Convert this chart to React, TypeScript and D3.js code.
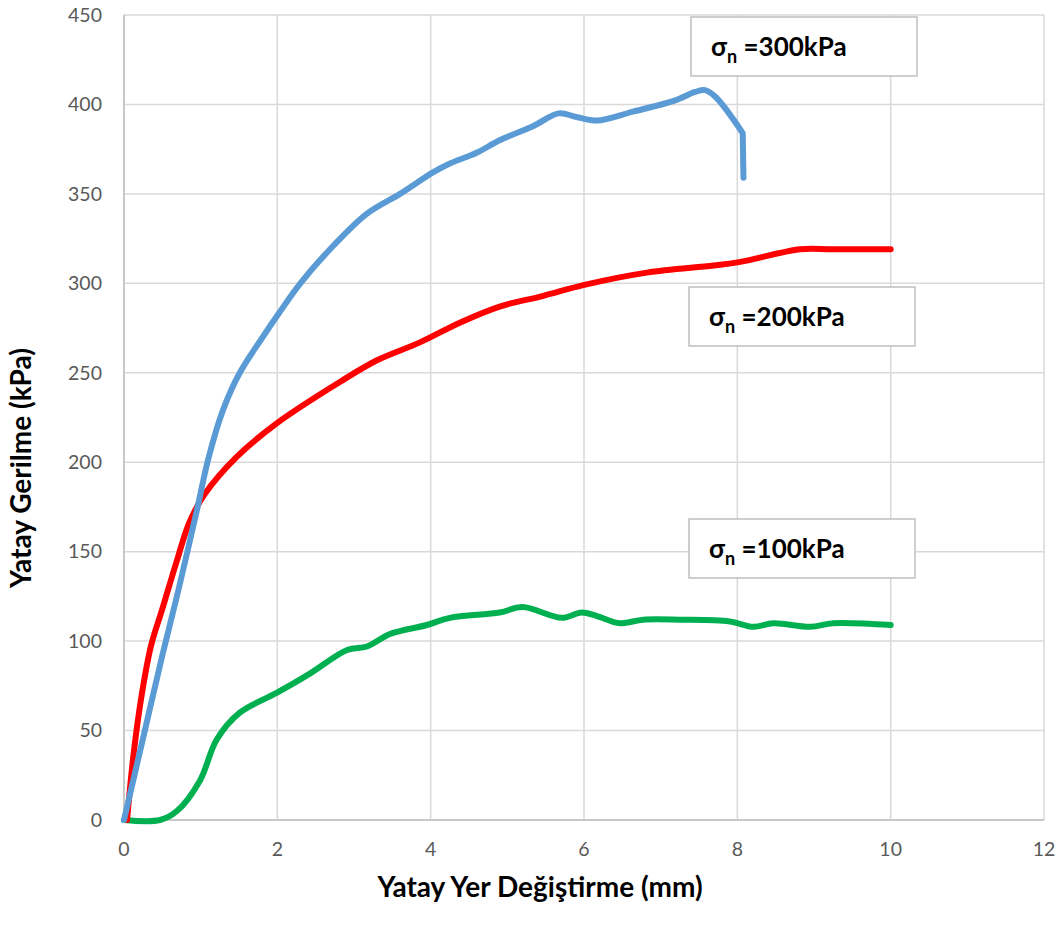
import React from 'react';
import * as d3 from 'd3';

// displacement (mm) / stress (kPa)
const x300 = [0, 0.25, 0.5, 0.69, 0.95, 1.1, 1.29, 1.51, 1.81, 2.0, 2.3, 2.73, 3.17, 3.6, 4.03, 4.25, 4.6, 4.9, 5.34, 5.67, 5.9, 6.17, 6.64, 7.17, 7.45, 7.58, 7.72, 8.07, 8.08];
const y300 = [0, 46, 92, 125, 173, 202, 229, 250, 270, 282, 300, 321, 339, 350, 362, 367, 373, 380, 388, 395, 393, 391, 396, 402, 407, 408, 404, 384, 359];

const x200 = [0.04, 0.12, 0.22, 0.35, 0.5, 0.69, 0.85, 1.05, 1.47, 2.0, 2.82, 3.3, 3.86, 4.38, 4.9, 5.47, 5.99, 6.82, 7.69, 8.04, 8.82, 9.25, 10.0];
const y200 = [0, 35, 67, 97, 118, 145, 166, 182, 203, 222, 245, 257, 267, 278, 287, 293, 299, 306, 310, 312, 319, 319, 319];

const x100 = [0, 0.47, 0.69, 0.99, 1.21, 1.51, 1.99, 2.43, 2.91, 3.17, 3.47, 3.95, 4.25, 4.9, 5.2, 5.71, 5.97, 6.17, 6.47, 6.77, 7.25, 7.9, 8.21, 8.47, 8.95, 9.25, 10.0];
const y100 = [0, 0, 5, 22, 45, 60, 71, 82, 95, 97, 104, 109, 113, 116, 119, 113, 116, 114, 110, 112, 112, 111, 108, 110, 108, 110, 109];

const xTicks = [0, 2, 4, 6, 8, 10, 12];
const yTicks = [0, 50, 100, 150, 200, 250, 300, 350, 400, 450];

const series = [
  { xs: x100, ys: y100, color: '#00b050', label: '100kPa', box: [689, 519] },
  { xs: x200, ys: y200, color: '#ff0000', label: '200kPa', box: [689, 287] },
  { xs: x300, ys: y300, color: '#5b9bd5', label: '300kPa', box: [691, 17] },
];

const W = 1063;
const H = 936;
const margin = { left: 124, right: 19, top: 15, bottom: 116 };

export default function App() {
  const x = d3.scaleLinear().domain([0, 12]).range([margin.left, W - margin.right]);
  const y = d3.scaleLinear().domain([0, 450]).range([H - margin.bottom, margin.top]);

  const smooth = d3.line<[number, number]>()
    .x(d => x(d[0]))
    .y(d => y(d[1]))
    .curve(d3.curveCatmullRom.alpha(0.5));
  const straight = d3.line<[number, number]>()
    .x(d => x(d[0]))
    .y(d => y(d[1]));

  // the 300kPa test ends with a sudden vertical drop, kept straight
  const pathFor = (xs: number[], ys: number[]) => {
    const pts = xs.map((v, i) => [v, ys[i]] as [number, number]);
    const n = pts.length;
    if (n > 2 && Math.abs(pts[n - 1][0] - pts[n - 2][0]) < 0.05) {
      return (smooth(pts.slice(0, n - 1)) || '') + (straight(pts.slice(n - 2)) || '').replace(/^M[^L]*/, '');
    }
    return smooth(pts) || '';
  };

  const font = 'Lato, "Open Sans", sans-serif';

  return (
    <svg width={W} height={H} style={{ position: 'absolute', left: 0, top: 0, background: '#fff' }}>
      {/* grid */}
      {yTicks.map(t => (
        <line key={'gy' + t} x1={x(0)} x2={x(12)} y1={y(t)} y2={y(t)} stroke="#d9d9d9" strokeWidth={1.5} />
      ))}
      {xTicks.map(t => (
        <line key={'gx' + t} x1={x(t)} x2={x(t)} y1={y(0)} y2={y(450)} stroke="#d9d9d9" strokeWidth={1.5} />
      ))}
      <line x1={x(0)} x2={x(0)} y1={y(0)} y2={y(450)} stroke="#bfbfbf" strokeWidth={1.5} />
      <line x1={x(0)} x2={x(12)} y1={y(0)} y2={y(0)} stroke="#bfbfbf" strokeWidth={1.5} />

      {/* tick labels */}
      {yTicks.map(t => (
        <text key={'ty' + t} x={x(0) - 22} y={y(t)} dy="0.35em" textAnchor="end"
          fontFamily={font} fontSize={19.5} fill="#595959">{t}</text>
      ))}
      {xTicks.map(t => (
        <text key={'tx' + t} x={x(t)} y={y(0) + 36} textAnchor="middle"
          fontFamily={font} fontSize={19.5} fill="#595959">{t}</text>
      ))}

      {/* lines */}
      {series.map(s => (
        <path key={s.label} d={pathFor(s.xs, s.ys)}
          fill="none" stroke={s.color} strokeWidth={6} strokeLinecap="round" strokeLinejoin="round" />
      ))}

      {/* label boxes */}
      {series.map(s => (
        <g key={'b' + s.label} transform={`translate(${s.box[0]},${s.box[1]})`}>
          <rect x={0} y={0} width={226} height={59} fill="#fff" stroke="#bfbfbf" strokeWidth={1.5} />
          <text x={20} y={39} fontFamily={font} fontWeight="bold" fontSize={26} fill="#000">
            σ<tspan fontSize={18} dy={7}>n</tspan><tspan dy={-7}> ={s.label}</tspan>
          </text>
        </g>
      ))}

      {/* axis titles */}
      <text x={540} y={897} textAnchor="middle" fontFamily={font} fontWeight="bold" fontSize={28} fill="#000">
        Yatay Yer Değiştirme (mm)
      </text>
      <text transform={`translate(31,${468}) rotate(-90)`} textAnchor="middle"
        fontFamily={font} fontWeight="bold" fontSize={28} fill="#000">
        Yatay Gerilme (kPa)
      </text>
    </svg>
  );
}
